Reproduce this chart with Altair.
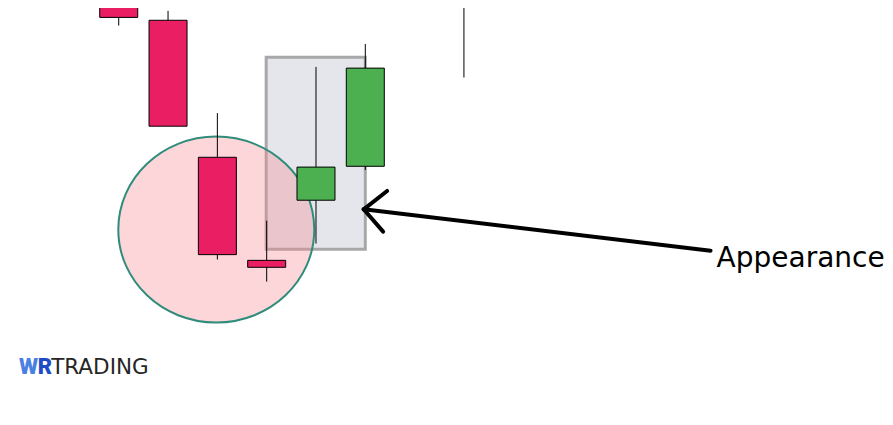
import altair as alt
import pandas as pd

# Candles (price units)
idx    = [0, 1, 2, 3, 4, 5, 6, 7]
opens  = [106.8, 97.0, 63.5, 38.3, 53.0, 61.3, 100.4, 102.0]
highs  = [109.3, 99.3, 74.3, 48.0, 85.6, 91.2, 112.0, 112.0]
lows   = [95.7, 71.1, 38.5, 33.1, 42.4, 60.4, 100.4, 83.0]
closes = [97.7, 71.1, 39.7, 36.6, 61.1, 85.3, 110.0, 110.0]

# Highlight box around the "appearance" candles
box_x  = [2.99]
box_x2 = [5.0]
box_y  = [41.0]
box_y2 = [87.95]

# Circle around the down-trend end
circ_x = [1.978]
circ_y = [45.84]

# Arrow segments (tail -> tip, tip -> arm ends)
arr_x  = [12.0, 4.967, 4.967]
arr_y  = [40.66, 50.78, 50.78]
arr_x2 = [4.967, 5.442, 5.361]
arr_y2 = [50.78, 55.26, 45.31]

label_text = ["Appearance"]
label_x = [12.123]
label_y = [36.6]

logo_letters = ["W", "R"]
logo_letter_x = [-2.02, -1.64]
logo_letter_y = [10.44, 10.44]
logo_letter_color = ["#4a80e2", "#1f4cc4"]
logo_word = ["TRADING"]
logo_word_x = [-1.37]
logo_word_y = [10.44]

candles = pd.DataFrame({
    "i": idx, "open": opens, "high": highs, "low": lows, "close": closes,
})
candles["dir"] = ["up" if c > o else "down" for o, c in zip(opens, closes)]

xs = alt.Scale(domain=[-2.144, 15.437], nice=False, zero=False)
ys = alt.Scale(domain=[0, 100], nice=False, zero=False)

X = lambda f: alt.X(f, type="quantitative", scale=xs, axis=None)
Y = lambda f: alt.Y(f, type="quantitative", scale=ys, axis=None)

box = alt.Chart(pd.DataFrame({"x": box_x, "x2": box_x2, "y": box_y, "y2": box_y2})).mark_rect(
    fill="#4b587a", fillOpacity=0.15, stroke="#a8a8a8", strokeWidth=3, clip=True
).encode(x=X("x"), x2="x2", y=Y("y"), y2="y2")

ellipse_path = "M -1 0 A 1 0.949 0 1 1 1 0 A 1 0.949 0 1 1 -1 0 Z"
circ = alt.Chart(pd.DataFrame({"x": circ_x, "y": circ_y})).mark_point(
    shape=ellipse_path, size=38416, filled=True, fill="#f6868f", fillOpacity=0.34,
    stroke="#2f8c7b", strokeOpacity=1, strokeWidth=2, clip=True
).encode(x=X("x"), y=Y("y"))

wicks = alt.Chart(candles).mark_rule(color="black", strokeWidth=1, clip=True).encode(
    x=X("i"), y=Y("low"), y2="high"
)

bodies = alt.Chart(candles).mark_bar(size=38, stroke="black", strokeWidth=1, clip=True).encode(
    x=X("i"), y=Y("open"), y2="close",
    color=alt.Color("dir:N", scale=alt.Scale(domain=["up", "down"], range=["#4caf50", "#e91e63"]), legend=None),
)

arrow = alt.Chart(pd.DataFrame({"x": arr_x, "y": arr_y, "x2": arr_x2, "y2": arr_y2})).mark_rule(
    color="black", strokeWidth=4, strokeCap="round", clip=True
).encode(x=X("x"), y=Y("y"), x2="x2", y2="y2")

label = alt.Chart(pd.DataFrame({"x": label_x, "y": label_y, "t": label_text})).mark_text(
    align="left", baseline="alphabetic", font="DejaVu Sans", fontSize=28, color="black", clip=True
).encode(x=X("x"), y=Y("y"), text="t:N")

logo1 = alt.Chart(pd.DataFrame({"x": logo_letter_x, "y": logo_letter_y, "t": logo_letters,
                                "c": logo_letter_color})).mark_text(
    align="left", baseline="alphabetic", font="Roboto", fontSize=22, fontWeight=900
).encode(x=X("x"), y=Y("y"), text="t:N", color=alt.Color("c:N", scale=None))

logo2 = alt.Chart(pd.DataFrame({"x": logo_word_x, "y": logo_word_y, "t": logo_word})).mark_text(
    align="left", baseline="alphabetic", font="DejaVu Sans", fontSize=21.5, color="#262626"
).encode(x=X("x"), y=Y("y"), text="t:N")

chart = alt.layer(box, circ, wicks, bodies, arrow, label, logo1, logo2).properties(
    width=877, height=409, padding=0, background="white",
    autosize=alt.AutoSizeParams(type="none"),
).configure_view(stroke=None)

chart.save("out.html", embed_options={"renderer": "svg", "actions": False})
